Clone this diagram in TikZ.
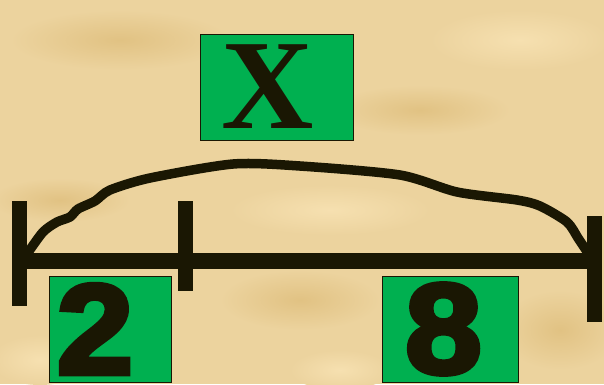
\documentclass[tikz,border=0pt]{standalone}
\usepackage{fontspec}
\setmainfont{Liberation Serif}
\newfontfamily\numfont[FakeBold=4,FakeStretch=1.08]{Liberation Sans}
\definecolor{inkc}{HTML}{1A1703}
\definecolor{boxg}{HTML}{00B050}
\definecolor{parch}{HTML}{ECD39E}
\definecolor{parchD}{HTML}{E1C283}
\definecolor{parchL}{HTML}{F6E0B0}
\begin{document}
\begin{tikzpicture}[x=1pt,y=-1pt,
  tickline/.style={draw=inkc,line width=15pt,line cap=butt},
  axisline/.style={draw=inkc,line width=16pt,line cap=butt},
  curveline/.style={draw=inkc,line width=9.5pt,line cap=round,line join=round},
  gbox/.style={draw=inkc,line width=1pt,fill=boxg,inner sep=0pt,text=inkc},
  blobD/.style={inner color=parchD,outer color=parch},
  blobL/.style={inner color=parchL,outer color=parch}]
\fill[parch] (0,0) rectangle (604,384);
\useasboundingbox (0,0) rectangle (604,384);
% parchment texture
\shade[blobD] (120,40) ellipse (110pt and 30pt);
\shade[blobD] (420,110) ellipse (90pt and 25pt);
\shade[blobD] (60,200) ellipse (70pt and 22pt);
\shade[blobD] (560,330) ellipse (60pt and 40pt);
\shade[blobD] (300,300) ellipse (80pt and 30pt);
\shade[blobL] (520,40) ellipse (90pt and 30pt);
\shade[blobL] (330,210) ellipse (100pt and 25pt);
\shade[blobL] (40,360) ellipse (50pt and 25pt);
\shade[blobL] (340,370) ellipse (50pt and 20pt);
% ticks
\coordinate (lt) at (19.5,201); \coordinate (lb) at (19.5,306);
\coordinate (mt) at (185.5,201); \coordinate (mb) at (185.5,291);
\coordinate (rt) at (594,216); \coordinate (rb) at (594,322);
\coordinate (la) at (19.5,261); \coordinate (ra) at (594,261);
\draw[axisline] (la) -- (ra);
\draw[tickline] (lt) -- (lb);
\draw[tickline] (mt) -- (mb);
\draw[tickline] (rt) -- (rb);
% curve
\draw[curveline] plot[smooth,tension=0.45] coordinates {(27,254) (43,232) (57,222) (70,217) (78,209) (95,201) (110,190) (150,178) (233,164) (300,166) (400,175) (457,192) (517,200) (540,206) (567,222) (578,238) (586,250)};
% boxes
\node[gbox,minimum width=153pt,minimum height=106pt] (xb) at (276.5,87)
  {\fontsize{128}{128}\selectfont\bfseries\kern-18pt X};
\node[gbox,minimum width=122pt,minimum height=106pt] (two) at (110,329)
  {\numfont\fontsize{128}{128}\selectfont\bfseries\kern-30pt 2};
\node[gbox,minimum width=136pt,minimum height=106pt] (eight) at (450,329)
  {\numfont\fontsize{128}{128}\selectfont\bfseries\kern-13pt 8};
\end{tikzpicture}
\end{document}
